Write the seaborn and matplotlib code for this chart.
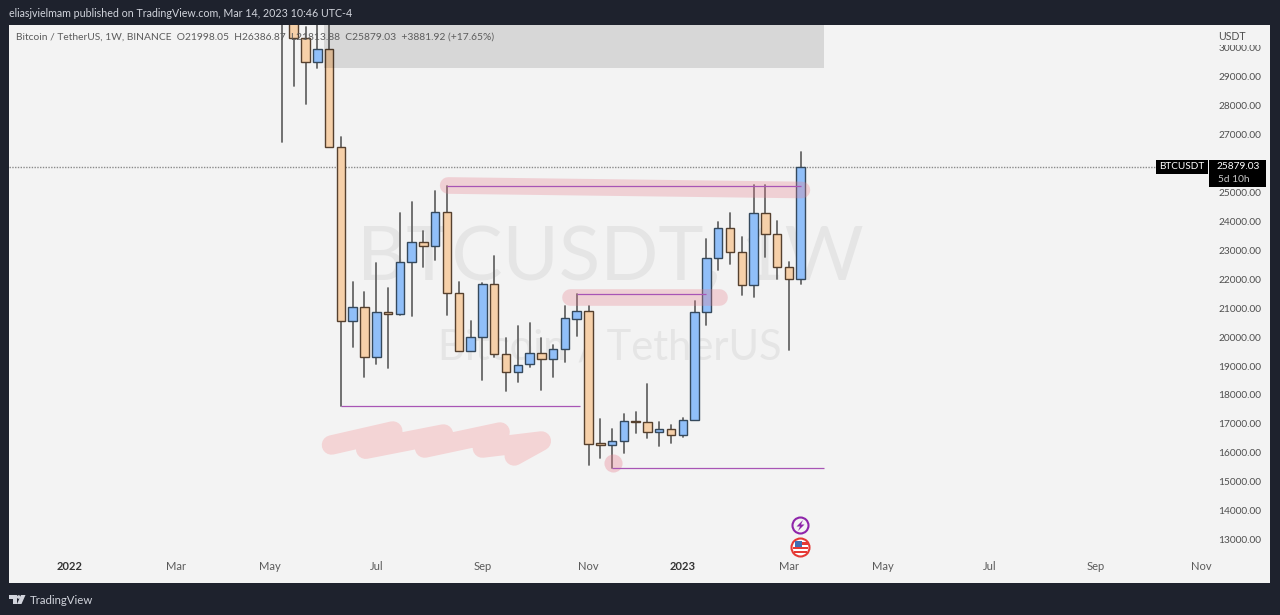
import numpy as np
import pandas as pd
import seaborn as sns
import matplotlib
matplotlib.use("Agg")
import matplotlib.pyplot as plt
import matplotlib.dates as mdates
from matplotlib.patches import Rectangle, Polygon, Circle

# ---------- data (weekly candles, BTC/USDT) ----------
first_week = "2022-05-09"
opens = [34000, 31300, 30310, 29483, 29931, 26552, 20552, 21034, 19310, 20862,
         20793, 22586, 23276, 23138, 24310, 21517, 19517, 20000, 21827, 19414,
         18793, 19069, 19448, 19241, 19586, 20621, 20896, 16345, 16276, 16414,
         17103, 17069, 16724, 16828, 16621, 17138, 20862, 22724, 23759, 22931,
         21793, 24276, 23552, 22414, 21998]
closes = [31300, 30310, 29483, 29931, 26552, 20552, 21034, 19310, 20862, 20793,
          22586, 23276, 23138, 24310, 21517, 19517, 20000, 21827, 19414, 18793,
          19034, 19448, 19241, 19586, 20655, 20896, 16310, 16276, 16414, 17103,
          17069, 16724, 16828, 16621, 17138, 20862, 22724, 23759, 22931, 21793,
          24276, 23552, 22414, 21998, 25879]
highs = [35000, 32000, 30690, 31400, 31700, 26900, 21896, 21552, 22552, 21690,
         24276, 24655, 23655, 25035, 25207, 21896, 20552, 21862, 22793, 19966,
         20379, 20483, 19966, 19724, 21069, 21483, 21069, 17172, 16828, 17345,
         17414, 18379, 17069, 16966, 17207, 21241, 23379, 23966, 24276, 23448,
         25241, 25241, 24000, 22586, 26387]
lows = [26724, 28655, 28034, 29276, 26552, 17621, 19655, 18621, 19069, 18931,
        20759, 20724, 22414, 22655, 20759, 19517, 19517, 18517, 19310, 18138,
        18448, 18966, 18172, 18621, 19138, 20034, 15586, 15828, 15483, 15999,
        16690, 16517, 16241, 16345, 16552, 17138, 20414, 22310, 22517, 21448,
        21379, 22759, 22000, 19552, 21814]

# 26000 sits behind the last-price box in the reference, so it is not listed
price_ticks = [13000, 14000, 15000, 16000, 17000, 18000, 19000, 20000, 21000, 22000,
               23000, 24000, 25000, 27000, 28000, 29000, 30000]
date_ticks = ["2022-01-03", "2022-03-07", "2022-05-02", "2022-07-04", "2022-09-05", "2022-11-07",
              "2023-01-02", "2023-03-06", "2023-05-01", "2023-07-03", "2023-09-04", "2023-11-06"]
date_labels = ["2022", "Mar", "May", "Jul", "Sep", "Nov", "2023", "Mar", "May", "Jul", "Sep", "Nov"]

# horizontal levels: price, first week, last week (week offset from first candle)
level_prices = [25207, 21483, 17621, 15483]
level_starts = [14, 25, 5, 28]
level_ends = [44, 36, 25.3, 46]

# hand-drawn highlight strokes: week offset, price
stroke_top_w, stroke_top_p = [14.1, 44.1], [25225, 25070]
stroke_mid_w, stroke_mid_p = [24.4, 37.1], [21380, 21380]
scribble_w = [4.2, 9.4, 7.1, 13.7, 12.1, 18.5, 17.0, 22.0, 19.7]
scribble_p = [16276, 16759, 16130, 16655, 16170, 16724, 16170, 16414, 15897]
dot_w, dot_p = [28.1], [15655]

# drawing-tool zone
zone_w = [3.6, 46.0]
zone_p = [29276, 31000]
last_close = 25879.03

# ---------- styling ----------
DARK = "#1e222d"
PANEL = "#f3f3f3"
FONT = ["Lato", "DejaVu Sans"]
sns.set_theme(style="white")
plt.rcParams["font.family"] = FONT
W, H = 1280, 615

fig = plt.figure(figsize=(W / 100, H / 100), dpi=100, facecolor=DARK)
ax = fig.add_axes([9 / W, 1 - 583 / H, 1261 / W, 558 / H], facecolor=PANEL)

base = mdates.date2num(pd.Timestamp(first_week))
def wk(i):
    return base + np.asarray(i, dtype=float) * 7.0

n = len(opens)
frame = pd.DataFrame({"week": wk(np.arange(n)), "open": opens, "close": closes,
                      "high": highs, "low": lows})
wicks = frame.melt(id_vars="week", value_vars=["low", "high"], value_name="price")

sns.lineplot(data=wicks, x="week", y="price", units="week", estimator=None,
             color="#666666", lw=1.3, ax=ax, zorder=2, legend=False)

up = frame["close"] >= frame["open"]
body_w = 7 * 0.72
for mask, fill, edge in [(up, "#90bff9", "#35495c"), (~up, "#f6d0a9", "#55402e")]:
    sub = frame[mask]
    ax.bar(sub["week"], (sub["close"] - sub["open"]).abs().clip(lower=40),
           bottom=sub[["open", "close"]].min(axis=1), width=body_w,
           color=fill, edgecolor=edge, linewidth=1.0, zorder=3)

ax.set_xlim(wk(-23.15), wk(83.8))
ax.set_ylim(11517, 30759)

# watermark
ax.text(0.4766, 0.582, "BTCUSDT, 1W", transform=ax.transAxes, ha="center", va="center",
        fontsize=55, color="#e5e5e5", zorder=0.5)
ax.text(0.4766, 0.4215, "Bitcoin / TetherUS", transform=ax.transAxes, ha="center", va="center",
        fontsize=30, color="#e5e5e5", zorder=0.5)

# zone
ax.add_patch(Rectangle((wk(zone_w[0]), zone_p[0]), wk(zone_w[1]) - wk(zone_w[0]), zone_p[1] - zone_p[0],
                       facecolor="#000000", alpha=0.115, lw=0, zorder=4))

# pink strokes
pink = "#e8808f"
for xs, ys in [(stroke_top_w, stroke_top_p), (stroke_mid_w, stroke_mid_p)]:
    ax.plot(wk(xs), ys, color=pink, alpha=0.3, lw=12, solid_capstyle="round", zorder=4)
ax.plot(wk(scribble_w), scribble_p, color="#f3d4d5", lw=14, solid_capstyle="round",
        solid_joinstyle="round", zorder=1)
sns.scatterplot(x=wk(dot_w), y=dot_p, color=pink, alpha=0.35, s=170, linewidth=0, ax=ax,
                zorder=4, legend=False)

# levels
ax.hlines(level_prices, wk(level_starts), wk(level_ends), color="#a855b5", lw=0.9, zorder=5)
ax.axhline(last_close, xmax=(1156 - 9) / 1261, color="#8a8a8a", lw=1, ls=(0, (1, 1)), zorder=1.5)

# axes
ax.set_xlabel("")
ax.set_ylabel("")
for s in ax.spines.values():
    s.set_visible(False)
ax.grid(False)
ax.yaxis.tick_right()
ax.set_yticks(price_ticks, [f"{v:.2f}" for v in price_ticks])
ax.tick_params(axis="y", length=0, pad=-37.2, labelsize=7.3, labelcolor="#4f4f4f")
ax.set_xticks([mdates.date2num(pd.Timestamp(d)) for d in date_ticks], date_labels)
ax.tick_params(axis="x", length=0, pad=-15.5, labelsize=8, labelcolor="#5a5a5a")
for lab in ax.get_xticklabels():
    if lab.get_text().isdigit():
        lab.set_fontweight("bold")
        lab.set_color("#333333")

# ---------- pixel-placed furniture ----------
def fx(x):
    return x / W
def fy(y):
    return 1 - y / H
def box(x0, y0, x1, y1, color, z=1):
    fig.add_artist(Rectangle((fx(x0), fy(y1)), (x1 - x0) / W, (y1 - y0) / H, transform=fig.transFigure,
                             facecolor=color, edgecolor="none", zorder=z))

fig.text(fx(9), fy(13.5), "eliasjvielmam published on TradingView.com, Mar 14, 2023 10:46 UTC-4",
         color="#d1d4dc", fontsize=7.65, va="center", ha="left")
fig.text(fx(16), fy(37.5), "Bitcoin / TetherUS, 1W, BINANCE  O21998.05  H26386.87  L21813.88  C25879.03  +3881.92 (+17.65%)",
         color="#5c5c5c", fontsize=7.4, va="center", ha="left", zorder=6)

box(1213, 25, 1268, 44.5, PANEL, z=2)
fig.text(fx(1218), fy(36), "USDT", color="#4f4f4f", fontsize=7.6, va="center", ha="left", zorder=6)

box(1156, 160, 1208, 174, "#000000", z=5)
box(1209, 160, 1266, 187, "#000000", z=5)
fig.text(fx(1182), fy(167), "BTCUSDT", color="white", fontsize=7.2, va="center", ha="center", zorder=6)
fig.text(fx(1238), fy(167), "25879.03", color="white", fontsize=7.3, va="center", ha="center", zorder=6)
fig.text(fx(1218), fy(180), "5d 10h", color="#c8c8c8", fontsize=7.3, va="center", ha="left", zorder=6)

# event icons
icon = fig.add_axes([0, 0, 1, 1], facecolor="none", zorder=4)
icon.set_xlim(0, W)
icon.set_ylim(H, 0)
icon.axis("off")
icon.add_patch(Circle((800.5, 525.5), 8, facecolor=PANEL, edgecolor="#8e24aa", lw=1.5))
icon.add_patch(Polygon([(803, 520), (796.5, 526.5), (800, 526.5), (798, 531), (804.5, 524.5), (801, 524.5)],
                       facecolor="#8e24aa", edgecolor="none"))
icon.add_patch(Circle((800.5, 547.5), 9, facecolor="white", edgecolor="#e53935", lw=1.5))
for yy, x0, x1 in [(547, 793, 808), (551, 794, 807)]:
    icon.add_patch(Rectangle((x0, yy), x1 - x0, 2, facecolor="#e53935", edgecolor="none"))
icon.add_patch(Rectangle((795, 541.5), 13, 3, facecolor="#e53935", edgecolor="none"))
icon.add_patch(Rectangle((795, 541), 6.5, 6, facecolor="#3f6fb5", edgecolor="none"))

# footer logo
icon.add_patch(Polygon([(9, 595), (16.5, 595), (16.5, 604), (12.5, 604), (12.5, 598.5), (9, 598.5)],
                       facecolor="#d1d4dc", edgecolor="none"))
icon.add_patch(Circle((18.7, 597), 1.8, facecolor="#d1d4dc", edgecolor="none"))
icon.add_patch(Polygon([(21, 595), (25.5, 595), (21.5, 604), (17, 604)], facecolor="#d1d4dc", edgecolor="none"))
fig.text(fx(30), fy(600), "TradingView", color="#d1d4dc", fontsize=8.2, va="center", ha="left", zorder=6)

fig.savefig("out.png", dpi=100, facecolor=DARK)
